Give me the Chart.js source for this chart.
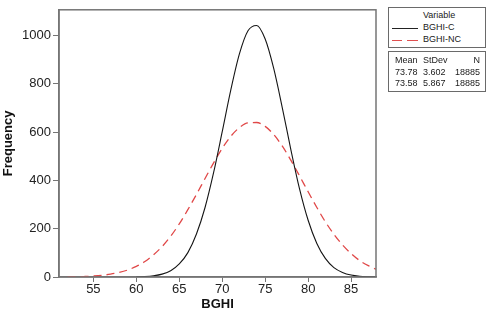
<!DOCTYPE html>
<html>
<head>
<meta charset="utf-8">
<script src="https://cdn.jsdelivr.net/npm/chart.js@4.4.1/dist/chart.umd.min.js"></script>
<style>
  body { margin: 0; background: #fff; }
  #wrap { position: relative; width: 489px; height: 310px; overflow: hidden; }
  .box { position: absolute; border: 1px solid #6a6a6a; background: #fff;
         font: 9px "Liberation Sans", sans-serif; color: #1a1a1a; line-height: 11px; }
  .row { position: absolute; white-space: nowrap; }
  .swatch { position: absolute; height: 0; width: 26px; }
</style>
</head>
<body>
<div id="wrap">
  <canvas id="normChart" width="489" height="310"></canvas>
  <div class="box" style="left:388px;top:7px;width:96px;height:39px;">
    <div class="row" style="left:34px;top:2px;">Variable</div>
    <div class="swatch" style="left:3px;top:20px;border-top:1px solid #222;"></div>
    <div class="row" style="left:34px;top:14px;">BGHI-C</div>
    <div class="swatch" style="left:3px;top:32px;border-top:1.3px solid #e05050;
         border-image: repeating-linear-gradient(90deg, #e05050 0 10px, transparent 10px 15px) 1;"></div>
    <div class="row" style="left:34px;top:26px;">BGHI-NC</div>
  </div>
  <div class="box" style="left:388px;top:51px;width:96px;height:39px;">
    <div class="row" style="left:6px;top:3px;">Mean</div>
    <div class="row" style="left:34px;top:3px;">StDev</div>
    <div class="row" style="right:5px;top:3px;">N</div>
    <div class="row" style="left:6px;top:15px;">73.78</div>
    <div class="row" style="left:34px;top:15px;">3.602</div>
    <div class="row" style="right:5px;top:15px;">18885</div>
    <div class="row" style="left:6px;top:26px;">73.58</div>
    <div class="row" style="left:34px;top:26px;">5.867</div>
    <div class="row" style="right:5px;top:26px;">18885</div>
  </div>
</div>
<script>
const bghi = [52, 53, 54, 55, 56, 57, 58, 59, 60, 61, 62, 63, 64, 65, 66, 67, 68, 69, 70,
  71, 72, 73, 74, 75, 76, 77, 78, 79, 80, 81, 82, 83, 84, 85, 86, 87, 88];

// fitted frequency, BGHI-C (black solid)
const freqC = [null, null, null, null, null, null, null, null, 1, 2, 5, 12, 26, 54, 101, 178, 288, 433, 602,
  775, 924, 1020, 1042, 986, 863, 700, 526, 365, 235, 140, 77, 39, 19, 8, 3, 1, 0];

// fitted frequency, BGHI-NC (red dashed)
const freqNC = [1, 1, 2, 4, 7, 12, 19, 29, 44, 64, 92, 126, 169, 220, 279, 342, 408, 473, 533,
  583, 619, 639, 640, 624, 590, 542, 483, 419, 353, 289, 229, 177, 133, 97, 68, 47, 31];

const yTicks = [0, 200, 400, 600, 800, 1000];
const xTicks = [55, 60, 65, 70, 75, 80, 85];

const toPoints = vals => bghi.map((x, i) => ({ x: x, y: vals[i] }));

const frame = {
  id: 'frame',
  afterDraw(chart) {
    const a = chart.chartArea, c = chart.ctx;
    c.save();
    c.strokeStyle = '#757575';
    c.lineWidth = 1.5;
    c.strokeRect(a.left, a.top, a.right - a.left, a.bottom - a.top);
    c.restore();
  }
};

const tickFont = { family: 'Liberation Sans', size: 13 };

const ctx = document.getElementById('normChart').getContext('2d');
new Chart(ctx, {
  type: 'line',
  data: {
    datasets: [
      {
        label: 'BGHI-C',
        data: toPoints(freqC),
        borderColor: '#151515',
        borderWidth: 1.1,
        pointRadius: 0,
        cubicInterpolationMode: 'monotone',
        fill: false
      },
      {
        label: 'BGHI-NC',
        data: toPoints(freqNC),
        borderColor: '#e04848',
        borderWidth: 1.3,
        borderDash: [8, 5],
        pointRadius: 0,
        cubicInterpolationMode: 'monotone',
        fill: false
      }
    ]
  },
  options: {
    responsive: false,
    animation: false,
    layout: { padding: { top: 7, right: 113, left: 0, bottom: 0 } },
    plugins: {
      legend: { display: false },
      tooltip: { enabled: false }
    },
    scales: {
      x: {
        type: 'linear',
        min: 51,
        max: 87.9,
        afterFit: s => { s.height = 33; },
        afterBuildTicks: s => { s.ticks = xTicks.map(v => ({ value: v })); },
        grid: { drawOnChartArea: false, tickLength: 5, color: '#757575' },
        border: { color: '#757575', width: 1.5 },
        ticks: { font: tickFont, color: '#222', padding: 0, maxRotation: 0, callback: v => String(v) },
        title: {
          display: true, text: 'BGHI', color: '#111',
          font: { family: 'Liberation Sans', size: 13, weight: 'bold' },
          padding: { top: 0, bottom: -2 }
        }
      },
      y: {
        min: 0,
        max: 1107,
        afterFit: s => { s.width = 59; },
        afterBuildTicks: s => { s.ticks = yTicks.map(v => ({ value: v })); },
        grid: { drawOnChartArea: false, tickLength: 6, color: '#757575' },
        border: { color: '#757575', width: 1.5 },
        ticks: { font: tickFont, color: '#222', padding: 2, callback: v => String(v) },
        title: {
          display: true, text: 'Frequency', color: '#111',
          font: { family: 'Liberation Sans', size: 13, weight: 'bold' },
          padding: { top: 1, bottom: 0 }
        }
      }
    }
  },
  plugins: [frame]
});
</script>
</body>
</html>
